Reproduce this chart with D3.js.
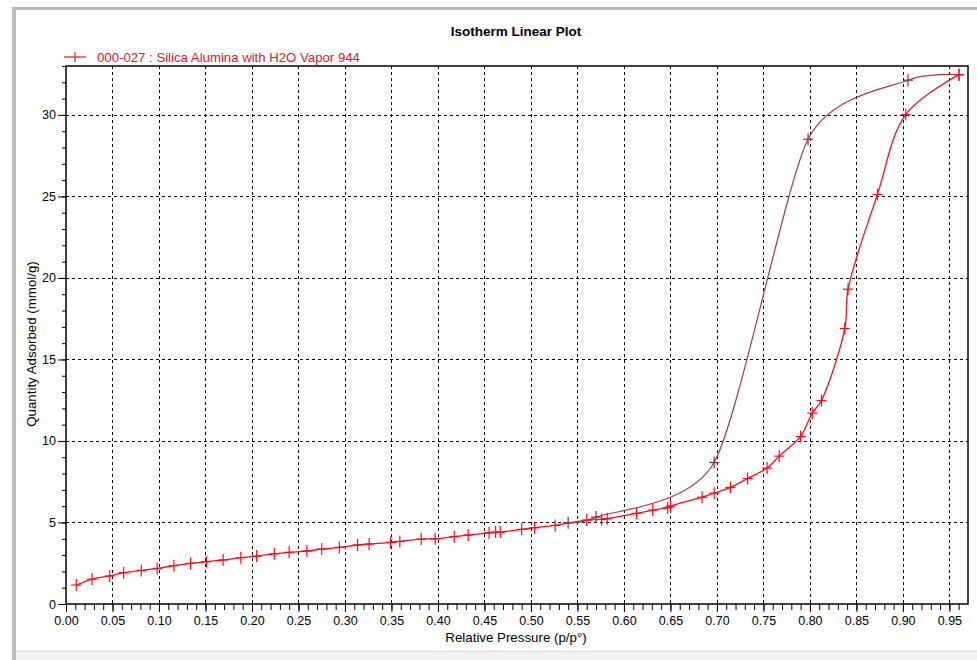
<!DOCTYPE html>
<html>
<head>
<meta charset="utf-8">
<script src="https://cdn.jsdelivr.net/npm/d3@7"></script>
<style>
  body { margin: 0; background: #fff; }
  svg { display: block; font-family: "Liberation Sans", Arial, sans-serif; }
</style>
</head>
<body>
<div id="chart"></div>
<script>
// Isotherm data (relative pressure p/p°, quantity adsorbed mmol/g)
const adsPressure = [0.011, 0.028, 0.047, 0.062, 0.081, 0.098, 0.116, 0.134, 0.151, 0.169,
    0.188, 0.205, 0.224, 0.240, 0.259, 0.275, 0.294, 0.3135, 0.326, 0.349,
    0.359, 0.382, 0.397, 0.4175, 0.4325, 0.455, 0.462, 0.467, 0.490, 0.504,
    0.526, 0.560, 0.576, 0.582, 0.6135, 0.631, 0.647, 0.650, 0.684, 0.697,
    0.7145, 0.733, 0.754, 0.767, 0.790, 0.8025, 0.8124, 0.8375, 0.841, 0.8726,
    0.903, 0.9603];
const adsQuantity = [1.16, 1.53, 1.72, 1.92, 2.06, 2.18, 2.35, 2.49, 2.60, 2.70,
    2.84, 2.94, 3.08, 3.17, 3.25, 3.37, 3.47, 3.62, 3.68, 3.78,
    3.84, 3.98, 4.00, 4.13, 4.23, 4.37, 4.41, 4.41, 4.58, 4.68,
    4.82, 5.15, 5.19, 5.23, 5.56, 5.76, 5.91, 6.00, 6.55, 6.80,
    7.15, 7.70, 8.34, 9.07, 10.28, 11.71, 12.48, 16.9, 19.31, 25.12,
    30.02, 32.47];

const desPressure = [0.9603, 0.9055, 0.798, 0.697, 0.570, 0.540];
const desQuantity = [32.47, 32.13, 28.51, 8.68, 5.33, 4.99];

const xTicks = d3.range(0, 20).map(i => i * 0.05);
const yTicks = [0, 5, 10, 15, 20, 25, 30];

const title = "Isotherm Linear Plot";
const seriesName = "000-027 : Silica Alumina with H2O Vapor 944";
const xLabel = "Relative Pressure (p/p°)";
const yLabel = "Quantity Adsorbed (mmol/g)";

const width = 977, height = 660;
const margin = { left: 66, right: 9, top: 66, bottom: 56 };

const svg = d3.select("#chart").append("svg")
    .attr("width", width)
    .attr("height", height);

// window frame
svg.append("rect").attr("x", 12).attr("y", 7).attr("width", 4).attr("height", 653).attr("fill", "#b8b8b8");
svg.append("rect").attr("x", 12).attr("y", 7).attr("width", 965).attr("height", 3).attr("fill", "#b8b8b8");
svg.append("rect").attr("x", 16).attr("y", 651).attr("width", 961).attr("height", 9).attr("fill", "#f0f0f0");
svg.append("line").attr("x1", 16).attr("x2", 977).attr("y1", 651).attr("y2", 651).attr("stroke", "#d8d8d8");

const x = d3.scaleLinear().domain([0, 0.97]).range([margin.left, width - margin.right]);
const y = d3.scaleLinear().domain([0, 33]).range([height - margin.bottom, margin.top]);

// grid
const grid = svg.append("g").attr("stroke", "#000").attr("stroke-dasharray", "3,3").attr("stroke-width", 1);
grid.selectAll("line.vx").data(xTicks.slice(1)).join("line")
    .attr("x1", d => Math.round(x(d)) + 0.5).attr("x2", d => Math.round(x(d)) + 0.5)
    .attr("y1", y(33)).attr("y2", y(0));
grid.selectAll("line.hy").data(yTicks.slice(1)).join("line")
    .attr("x1", x(0)).attr("x2", x(0.97))
    .attr("y1", d => Math.round(y(d)) + 0.5).attr("y2", d => Math.round(y(d)) + 0.5);

// axes
const xAxis = d3.axisBottom(x).tickValues(xTicks).tickFormat(d3.format(".2f")).tickSize(8).tickPadding(4);
const gx = svg.append("g").attr("transform", `translate(0,${y(0)})`).call(xAxis);
gx.select(".domain").remove();
gx.selectAll("text").attr("font-size", 12.5).attr("fill", "#000");
svg.append("g").attr("transform", `translate(0,${y(0)})`)
    .call(d3.axisBottom(x).tickValues(d3.range(0, 97).map(i => i / 100)).tickFormat("").tickSize(6))
    .select(".domain").remove();

const yAxis = d3.axisLeft(y).tickValues(yTicks).tickSize(8).tickPadding(2);
const gy = svg.append("g").attr("transform", `translate(${x(0)},0)`).call(yAxis);
gy.select(".domain").remove();
gy.selectAll("text").attr("font-size", 12.5).attr("fill", "#000");
svg.append("g").attr("transform", `translate(${x(0)},0)`)
    .call(d3.axisLeft(y).tickValues(d3.range(0, 34)).tickFormat("").tickSize(4))
    .select(".domain").remove();

// plot border
svg.append("rect")
    .attr("x", x(0)).attr("y", y(33))
    .attr("width", x(0.97) - x(0)).attr("height", y(0) - y(33))
    .attr("fill", "none").attr("stroke", "#000").attr("stroke-width", 1.5);

// series
const ads = adsPressure.map((p, i) => [p, adsQuantity[i]]);
const des = desPressure.map((p, i) => [p, desQuantity[i]]);

const line = d3.line().x(d => x(d[0])).y(d => y(d[1]));

svg.append("path").datum(des)
    .attr("d", line.curve(d3.curveCardinal.tension(0.3)))
    .attr("fill", "none").attr("stroke", "#a23a4c").attr("stroke-width", 1.2);
svg.append("path").datum(ads)
    .attr("d", line.curve(d3.curveCatmullRom.alpha(0.5)))
    .attr("fill", "none").attr("stroke", "#e8141e").attr("stroke-width", 1.3);

function plus(g, data, color) {
    const m = g.selectAll("g").data(data).join("g")
        .attr("transform", d => `translate(${x(d[0])},${y(d[1])})`)
        .attr("stroke", color).attr("stroke-width", 1.2);
    m.append("line").attr("x1", -5).attr("x2", 5);
    m.append("line").attr("y1", -6).attr("y2", 6);
}
plus(svg.append("g"), des, "#8e2a3a");
plus(svg.append("g"), ads, "#ff0a14");

// title and labels
svg.append("text").attr("x", 516).attr("y", 36).attr("text-anchor", "middle")
    .attr("font-size", 13.5).attr("font-weight", "bold").text(title);
svg.append("text").attr("x", 516).attr("y", 642).attr("text-anchor", "middle")
    .attr("font-size", 13.3).text(xLabel);
svg.append("text").attr("transform", `translate(36,344) rotate(-90)`)
    .attr("text-anchor", "middle").attr("font-size", 13.3).text(yLabel);

// legend
const lg = svg.append("g").attr("transform", "translate(64,57)");
lg.append("line").attr("x1", 0).attr("x2", 22).attr("stroke", "#e8141e").attr("stroke-width", 1.2);
lg.append("line").attr("x1", 11).attr("x2", 11).attr("y1", -5).attr("y2", 5).attr("stroke", "#e8141e").attr("stroke-width", 1.2);
lg.append("text").attr("x", 33).attr("y", 5).attr("font-size", 13.2).attr("fill", "#d4202a").text(seriesName);
</script>
</body>
</html>
